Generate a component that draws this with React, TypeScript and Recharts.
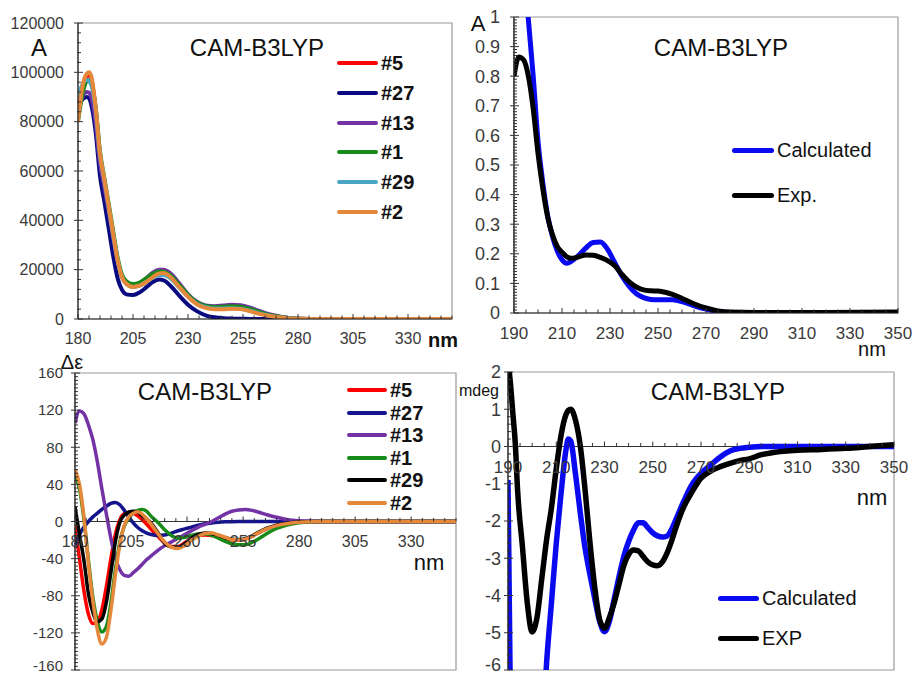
import React from 'react';
import { LineChart, Line, XAxis, YAxis, ReferenceArea, ReferenceLine } from 'recharts';

const FONT = '"Liberation Sans", Arial, Helvetica, sans-serif';
const TICK_COLOR = '#3a3a3a';

// ---------- top left: calculated UV of the conformers ----------
const uvNm = [180, 182, 184, 185, 186, 188, 190, 192, 194, 196, 198, 200, 202, 205, 208, 211, 214, 217, 219, 222, 226, 230, 234, 238, 242, 246, 250, 254, 258, 262, 266, 270, 275, 280, 290, 350];
const uv5 = [82000, 94000, 98500, 99000, 97500, 85000, 66000, 55500, 45000, 34000, 23800, 17000, 14400, 13200, 13800, 15500, 17500, 19000, 19000, 17500, 13500, 9500, 6500, 5000, 4500, 4600, 4700, 4400, 3600, 2500, 1500, 800, 350, 100, 0, 0];
const uv27 = [85000, 89000, 90000, 89500, 87000, 76000, 58000, 47500, 36500, 25500, 16500, 11800, 10000, 9700, 10800, 12800, 15000, 16000, 15700, 13500, 9500, 5800, 3200, 1500, 700, 300, 150, 80, 30, 0, 0, 0, 0, 0, 0, 0];
const uv13 = [84000, 90000, 92000, 91800, 90000, 80000, 63000, 53500, 43500, 33000, 23500, 17200, 14800, 13800, 14500, 16500, 18800, 20000, 20000, 18500, 14500, 10000, 7000, 5500, 5200, 5500, 5800, 5600, 4700, 3400, 2200, 1300, 500, 150, 0, 0];
const uv1 = [80000, 91000, 96500, 97000, 96000, 86000, 68000, 57000, 46500, 35500, 25000, 18000, 15300, 14200, 14800, 16500, 18300, 19300, 19200, 17700, 13800, 9800, 6800, 5300, 4900, 5000, 5200, 5000, 4200, 3000, 1900, 1100, 450, 120, 0, 0];
const uv29 = [90000, 95000, 97000, 96500, 95000, 85000, 66500, 56000, 45000, 34000, 23800, 17000, 14200, 13000, 13500, 15000, 16800, 17800, 17800, 16500, 12800, 9000, 6200, 4800, 4300, 4300, 4400, 4200, 3400, 2400, 1500, 800, 350, 100, 0, 0];
const uv2 = [80000, 94000, 99500, 100000, 98500, 86000, 67000, 56500, 45500, 34500, 24000, 17000, 14300, 13000, 13500, 15000, 17000, 18500, 18600, 17000, 13000, 9000, 6000, 4500, 4000, 4000, 4200, 4000, 3200, 2200, 1400, 800, 350, 100, 0, 0];

// ---------- top right: UV calculated vs experiment ----------
const absNm = [190, 192, 194, 196, 198, 200, 202, 204, 206, 208, 210, 212, 214, 217, 220, 223, 226, 229, 232, 235, 238, 241, 244, 247, 250, 253, 256, 259, 262, 266, 270, 275, 280, 290, 300, 320, 350];
const absCalc = [1.7, 1.45, 1.2, 0.99, 0.8, 0.58, 0.44, 0.33, 0.26, 0.21, 0.18, 0.168, 0.175, 0.195, 0.22, 0.238, 0.24, 0.215, 0.17, 0.125, 0.09, 0.065, 0.052, 0.046, 0.045, 0.045, 0.045, 0.04, 0.033, 0.022, 0.013, 0.005, 0.002, 0.001, 0, 0, 0];
const absExp = [0.8, 0.865, 0.855, 0.8, 0.69, 0.54, 0.42, 0.325, 0.265, 0.225, 0.205, 0.19, 0.185, 0.19, 0.196, 0.195, 0.188, 0.177, 0.16, 0.13, 0.105, 0.088, 0.078, 0.075, 0.074, 0.07, 0.063, 0.053, 0.042, 0.028, 0.017, 0.007, 0.003, 0.002, 0.002, 0.002, 0.003];

// ---------- bottom left: calculated ECD of the conformers ----------
const cdNm = [180, 182, 184, 186, 188, 190, 192, 194, 196, 198, 200, 202, 204, 206, 208, 210, 212, 214, 217, 220, 223, 226, 229, 232, 235, 238, 241, 244, 247, 250, 253, 256, 259, 262, 266, 270, 275, 280, 285, 290, 350];
const cd5 = [-5, -40, -75, -100, -110, -108, -95, -70, -40, -14, 2, 8.5, 10, 9, 6, 2, -3, -8.5, -16, -23, -27, -27, -23, -18, -15, -14.5, -15, -17, -19, -20, -20, -19, -16, -12, -7.5, -4.2, -1.8, -0.6, -0.1, 0, 0];
const cd27 = [-25, -14, -6, 0, 5, 9, 13, 16.5, 19.5, 20.5, 18, 12, 5, -1.5, -6.5, -10, -12.5, -14, -15, -14.5, -12.5, -10, -8, -6, -4, -2.5, -1.5, -0.8, -0.4, -0.2, -0.1, 0, 0, 0, 0, 0, 0, 0, 0, 0, 0];
const cd13 = [106, 119, 116, 104, 88, 64, 35, 8, -18, -39, -52, -58, -59, -55, -51, -46, -41, -37, -31, -26, -22, -18, -14, -10, -6, -3, 0, 4, 8, 11, 12.5, 13, 12, 10, 7, 4.5, 2, 0.8, 0.2, 0, 0];
const cd1 = [50, 35, 2, -42, -82, -108, -119, -113, -88, -52, -22, -5, 4, 9, 12, 13, 11, 5.5, -1, -9, -15, -18, -17, -15, -13.5, -13.5, -15, -18, -21.5, -24, -25, -25, -22.5, -18.5, -12.5, -7.5, -3.5, -1.4, -0.4, 0, 0];
const cd29 = [16, -14, -42, -78, -98, -108, -105, -87, -55, -22, -1, 7, 10, 11, 10, 6.5, 3, -2, -12, -23.5, -27.5, -28, -24, -18, -14, -12.5, -13, -15, -17.5, -19, -19.5, -18.5, -15.5, -11.5, -7, -4, -1.8, -0.6, -0.1, 0, 0];
const cd2 = [56, 40, 5, -45, -86, -117, -132, -125, -96, -58, -25, -4, 5, 9, 10.5, 8, 3, -3, -13, -22, -27.5, -29, -26, -20, -16, -13, -12.5, -14.5, -17, -19.5, -20, -19, -16, -12, -7.5, -4.5, -2.2, -0.8, -0.2, 0, 0];

// ---------- bottom right: ECD calculated vs experiment ----------
const ecdNm = [190, 191, 192, 193, 194, 196, 198, 200, 202, 204, 206, 208, 210, 212, 214, 215, 216, 218, 220, 222, 224, 226, 228, 230, 232, 234, 236, 238, 240, 242, 244, 246, 248, 250, 252, 254, 256, 258, 260, 263, 266, 270, 274, 278, 282, 286, 290, 295, 300, 310, 320, 330, 340, 350];
const ecdCalc = [-0.9, -7, -9, -10, -10.5, -11, -11, -10.5, -9.5, -8, -5.8, -4.2, -2.6, -1.25, -0.1, 0.2, 0.15, -0.75, -1.8, -2.75, -3.45, -4.1, -4.7, -4.97, -4.7, -4.1, -3.5, -2.95, -2.55, -2.25, -2.05, -2.05, -2.18, -2.32, -2.4, -2.43, -2.4, -2.2, -1.9, -1.45, -1.05, -0.72, -0.5, -0.28, -0.12, -0.05, -0.02, 0, 0, 0, 0, 0, 0, 0];
const ecdExp = [2.3, 1.7, 0.9, 0.1, -1.2, -2.7, -4.2, -4.98, -4.6, -3.55, -2.5, -1.65, -0.6, 0.3, 0.85, 0.97, 1.0, 0.7, 0.0, -1.2, -2.6, -3.8, -4.65, -4.88, -4.6, -4.2, -3.7, -3.2, -2.9, -2.78, -2.8, -2.95, -3.1, -3.18, -3.2, -3.1, -2.85, -2.5, -2.1, -1.6, -1.25, -0.85, -0.66, -0.54, -0.45, -0.38, -0.33, -0.22, -0.16, -0.1, -0.08, -0.05, 0, 0.05];

// tick labels
const xTicks25 = [180, 205, 230, 255, 280, 305, 330];
const xTicks20 = [190, 210, 230, 250, 270, 290, 310, 330, 350];
const uvYTicks = [0, 20000, 40000, 60000, 80000, 100000, 120000];
const absYTicks = [0, 0.1, 0.2, 0.3, 0.4, 0.5, 0.6, 0.7, 0.8, 0.9, 1];
const cdYTicks = [-160, -120, -80, -40, 0, 40, 80, 120, 160];
const ecdYTicks = [-6, -5, -4, -3, -2, -1, 0, 1, 2];

type Series = { key: string; name: string; color: string; values: number[] };

const uvSeries: Series[] = [
  { key: 's5', name: '#5', color: '#ff0000', values: uv5 },
  { key: 's27', name: '#27', color: '#0a0a80', values: uv27 },
  { key: 's13', name: '#13', color: '#7332a6', values: uv13 },
  { key: 's1', name: '#1', color: '#178a17', values: uv1 },
  { key: 's29', name: '#29', color: '#4aa6c4', values: uv29 },
  { key: 's2', name: '#2', color: '#e6883a', values: uv2 },
];
const cdSeries: Series[] = [
  { key: 's5', name: '#5', color: '#ff0000', values: cd5 },
  { key: 's27', name: '#27', color: '#14148c', values: cd27 },
  { key: 's13', name: '#13', color: '#7332a6', values: cd13 },
  { key: 's1', name: '#1', color: '#178a17', values: cd1 },
  { key: 's29', name: '#29', color: '#000000', values: cd29 },
  { key: 's2', name: '#2', color: '#e6883a', values: cd2 },
];
const absSeries: Series[] = [
  { key: 'calc', name: 'Calculated', color: '#0a0af0', values: absCalc },
  { key: 'exp', name: 'Exp.', color: '#000000', values: absExp },
];
const ecdSeries: Series[] = [
  { key: 'calc', name: 'Calculated', color: '#0a0af0', values: ecdCalc },
  { key: 'exp', name: 'EXP', color: '#000000', values: ecdExp },
];

const makeRows = (xs: number[], series: Series[]) =>
  xs.map((x, i) => {
    const row: Record<string, number> = { nm: x };
    series.forEach(s => { row[s.key] = s.values[i]; });
    return row;
  });

const steps = (from: number, to: number, step: number) => {
  const out: number[] = [];
  for (let v = from; v <= to + 1e-9; v += step) out.push(Math.round(v * 1000) / 1000);
  return out;
};
const has = (list: number[], v: number) => list.some(m => Math.abs(m - v) < 1e-9);

type PanelProps = {
  box: { left: number; top: number; width: number; height: number };
  // space around the plot area: left is the y-axis width, bottom the x-axis height
  pad: { top: number; right: number; bottom: number; left: number };
  rows: Record<string, number>[];
  series: Series[];
  strokeWidth: number;
  xDomain: [number, number];
  xMajor: number[];
  xMinor: number;
  yDomain: [number, number];
  yMajor: number[];
  yMinor: number;
  xFont: number;
  yFont: number;
  xLabelDy: number;
  yLabelGap: number;
  zeroAxis?: boolean;
};

const Panel: React.FC<PanelProps> = p => {
  const plotH = p.box.height - p.pad.top - p.pad.bottom;
  // x axis sits on y = 0 for the CD panels
  const lift = p.zeroAxis ? (plotH * (0 - p.yDomain[0])) / (p.yDomain[1] - p.yDomain[0]) : 0;

  const xTick = (props: any) => {
    const { x, y, payload } = props;
    const major = has(p.xMajor, payload.value);
    const y0 = y - lift;
    return (
      <g>
        <line x1={x} x2={x} y1={y0} y2={y0 - (major ? 5 : 3.5)} stroke="#333" strokeWidth={1} />
        {major && (
          <text x={x} y={y0 + p.xLabelDy} dy="0.35em" textAnchor="middle" fontSize={p.xFont} fill={TICK_COLOR} fontFamily={FONT}>
            {payload.value}
          </text>
        )}
      </g>
    );
  };

  const yTick = (props: any) => {
    const { x, y, payload } = props;
    const major = has(p.yMajor, payload.value);
    // keep the lowest label inside the picture
    const ty = Math.min(y, p.box.height - p.yFont * 0.6 - 1);
    return (
      <g>
        <line x1={x - (major ? 4 : 1)} x2={x + (major ? 5 : 3)} y1={y} y2={y} stroke="#333" strokeWidth={1} />
        {major && (
          <text x={x - p.yLabelGap} y={ty} dy="0.35em" textAnchor="end" fontSize={p.yFont} fill={TICK_COLOR} fontFamily={FONT}>
            {payload.value}
          </text>
        )}
      </g>
    );
  };

  return (
    <div style={{ position: 'absolute', left: p.box.left, top: p.box.top }}>
      <LineChart
        width={p.box.width}
        height={p.box.height}
        data={p.rows}
        margin={{ top: p.pad.top, right: p.pad.right, bottom: 0, left: 0 }}
      >
        <ReferenceArea
          x1={p.xDomain[0]}
          x2={p.xDomain[1]}
          y1={p.yDomain[0]}
          y2={p.yDomain[1]}
          fill="none"
          stroke="#9a9a9a"
          strokeWidth={1.2}
        />
        {p.zeroAxis && <ReferenceLine y={0} stroke="#333" strokeWidth={1.2} />}
        <XAxis
          dataKey="nm"
          type="number"
          domain={p.xDomain}
          allowDataOverflow
          ticks={steps(p.xDomain[0], p.xDomain[1], p.xMinor)}
          interval={0}
          height={p.pad.bottom}
          tickSize={0}
          tickMargin={0}
          tickLine={false}
          axisLine={p.zeroAxis ? false : { stroke: '#222', strokeWidth: 1.2 }}
          tick={xTick}
        />
        <YAxis
          type="number"
          domain={p.yDomain}
          allowDataOverflow
          ticks={steps(p.yDomain[0], p.yDomain[1], p.yMinor)}
          interval={0}
          width={p.pad.left}
          tickSize={0}
          tickMargin={0}
          tickLine={false}
          axisLine={{ stroke: '#222', strokeWidth: 1.2 }}
          tick={yTick}
        />
        {p.series.map(s => (
          <Line
            key={s.key}
            type="monotone"
            dataKey={s.key}
            name={s.name}
            stroke={s.color}
            strokeWidth={p.strokeWidth}
            dot={false}
            isAnimationActive={false}
          />
        ))}
      </LineChart>
    </div>
  );
};

const Txt: React.FC<{ x: number; y: number; size: number; bold?: boolean; children: React.ReactNode }> = ({ x, y, size, bold, children }) => (
  <div
    style={{
      position: 'absolute',
      left: x,
      top: y,
      transform: 'translate(-50%, -50%)',
      fontSize: size,
      fontWeight: bold ? 700 : 400,
      lineHeight: 1,
      whiteSpace: 'nowrap',
      color: '#111',
    }}
  >
    {children}
  </div>
);

const LegendBox: React.FC<{ series: Series[]; x: number; y: number; step: number; lineW: number; thick: number; size: number; bold?: boolean }> = ({
  series, x, y, step, lineW, thick, size, bold,
}) => (
  <>
    {series.map((s, i) => (
      <div key={s.key} style={{ position: 'absolute', left: x, top: y + i * step, transform: 'translateY(-50%)', display: 'flex', alignItems: 'center' }}>
        <div style={{ width: lineW, height: thick, background: s.color, borderRadius: thick / 2 }} />
        <span style={{ marginLeft: 3, fontSize: size, fontWeight: bold ? 700 : 400, color: '#111', lineHeight: 1, whiteSpace: 'nowrap' }}>{s.name}</span>
      </div>
    ))}
  </>
);

export default function App() {
  return (
    <div style={{ position: 'absolute', left: 0, top: 0, width: 912, height: 676, background: '#fff', fontFamily: FONT, overflow: 'hidden' }}>
      <Panel
        box={{ left: 0, top: 0, width: 460, height: 350 }}
        pad={{ top: 23, right: 8, bottom: 31, left: 78 }}
        rows={makeRows(uvNm, uvSeries)}
        series={uvSeries}
        strokeWidth={4}
        xDomain={[180, 350]}
        xMajor={xTicks25}
        xMinor={5}
        yDomain={[0, 120000]}
        yMajor={uvYTicks}
        yMinor={4000}
        xFont={16}
        yFont={16}
        xLabelDy={19}
        yLabelGap={14}
      />
      <Panel
        box={{ left: 456, top: 0, width: 456, height: 360 }}
        pad={{ top: 17, right: 14, bottom: 47, left: 58 }}
        rows={makeRows(absNm, absSeries)}
        series={absSeries}
        strokeWidth={5}
        xDomain={[190, 350]}
        xMajor={xTicks20}
        xMinor={5}
        yDomain={[0, 1]}
        yMajor={absYTicks}
        yMinor={0.01}
        xFont={17}
        yFont={18}
        xLabelDy={20}
        yLabelGap={14}
      />
      <Panel
        box={{ left: 0, top: 340, width: 460, height: 336 }}
        pad={{ top: 33, right: 4, bottom: 6, left: 75 }}
        rows={makeRows(cdNm, cdSeries)}
        series={cdSeries}
        strokeWidth={3.5}
        xDomain={[180, 350]}
        xMajor={xTicks25}
        xMinor={5}
        yDomain={[-160, 160]}
        yMajor={cdYTicks}
        yMinor={4}
        xFont={16}
        yFont={15}
        xLabelDy={20}
        yLabelGap={12}
        zeroAxis
      />
      <Panel
        box={{ left: 456, top: 340, width: 456, height: 336 }}
        pad={{ top: 32, right: 18, bottom: 6, left: 52 }}
        rows={makeRows(ecdNm, ecdSeries)}
        series={ecdSeries}
        strokeWidth={5.5}
        xDomain={[190, 350]}
        xMajor={xTicks20}
        xMinor={5}
        yDomain={[-6, 2]}
        yMajor={ecdYTicks}
        yMinor={0.2}
        xFont={17}
        yFont={18}
        xLabelDy={21}
        yLabelGap={7}
        zeroAxis
      />

      {/* titles and axis captions */}
      <Txt x={257} y={48} size={24}>CAM-B3LYP</Txt>
      <Txt x={721} y={48} size={24}>CAM-B3LYP</Txt>
      <Txt x={205} y={392} size={24}>CAM-B3LYP</Txt>
      <Txt x={718} y={392} size={24}>CAM-B3LYP</Txt>

      <Txt x={39} y={48} size={24}>A</Txt>
      <Txt x={478} y={24} size={22}>A</Txt>
      <Txt x={72} y={362} size={20}>Δε</Txt>
      <Txt x={479} y={391} size={16}>mdeg</Txt>

      <Txt x={443} y={340} size={20} bold>nm</Txt>
      <Txt x={872} y={349} size={20}>nm</Txt>
      <Txt x={429} y={563} size={22}>nm</Txt>
      <Txt x={872} y={498} size={22}>nm</Txt>

      <LegendBox series={uvSeries} x={337} y={63} step={29.8} lineW={41} thick={4} size={20} bold />
      <LegendBox series={cdSeries} x={347} y={390} step={22.6} lineW={40} thick={4} size={20} bold />
      <LegendBox series={absSeries} x={732} y={150} step={45} lineW={42} thick={5} size={20} />
      <LegendBox series={ecdSeries} x={718} y={598} step={40} lineW={41} thick={5} size={20} />
    </div>
  );
}
